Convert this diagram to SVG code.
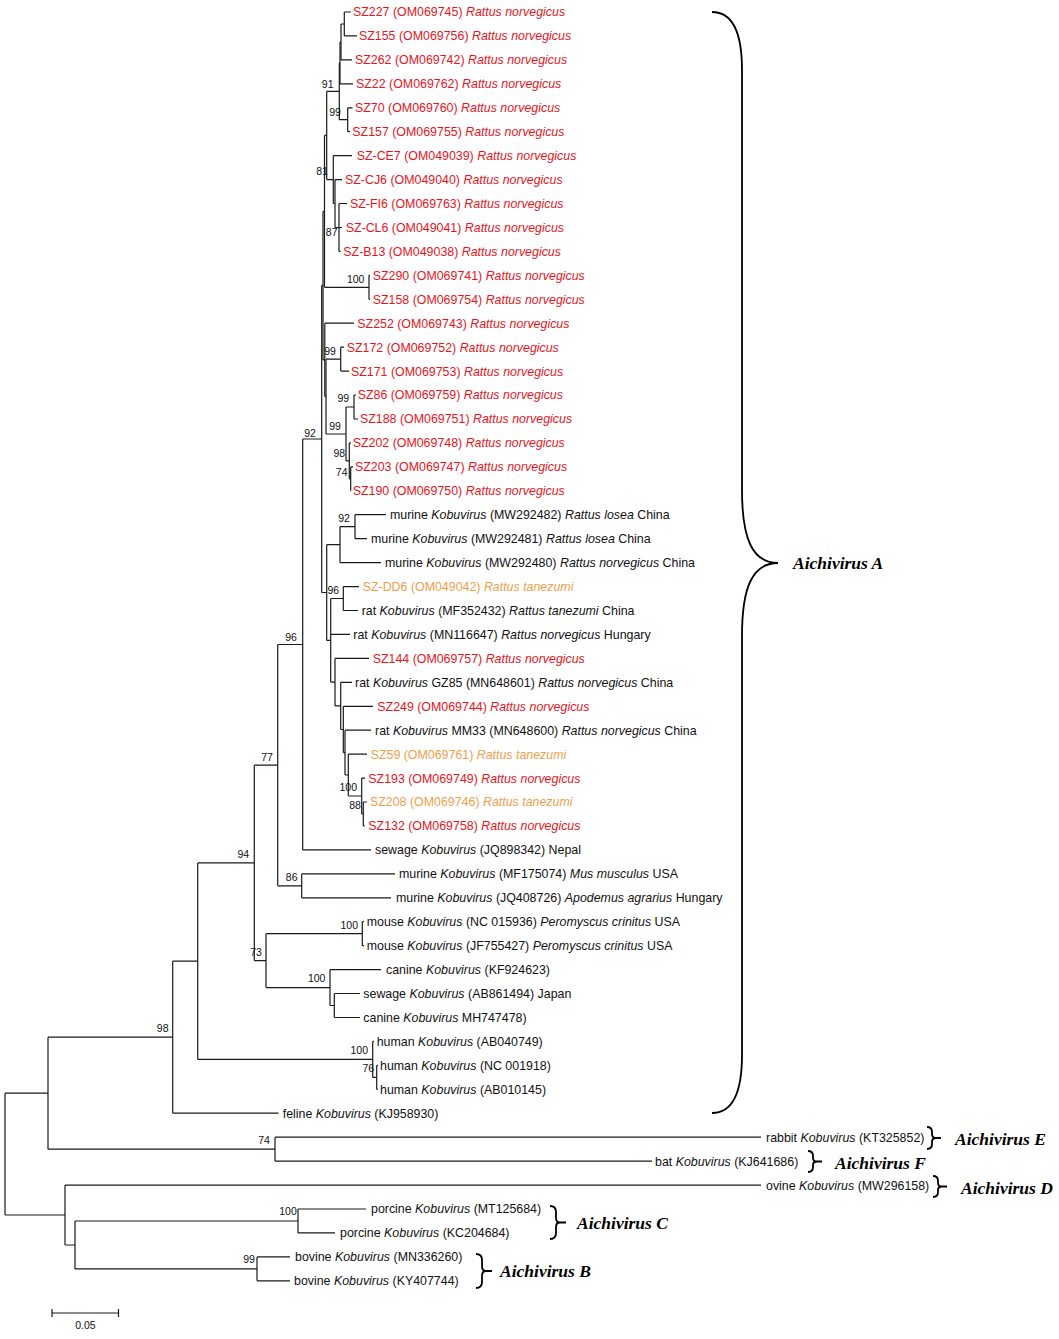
<svg xmlns="http://www.w3.org/2000/svg" width="1059" height="1339" viewBox="0 0 1059 1339">
<style>
.e{stroke:#1a1a1a;stroke-width:1.2;fill:none}
.t{font-family:"Liberation Sans",Arial,sans-serif;font-size:12.4px;fill:#111}
.r{fill:#e8141c}
.o{fill:#f0a04c}
.i{font-style:italic}
.b{font-family:"Liberation Sans",Arial,sans-serif;font-size:10.5px;fill:#111;text-anchor:middle}
.c{font-family:"Liberation Serif","Times New Roman",serif;font-weight:bold;font-style:italic;font-size:17.5px;fill:#000}
.br{stroke:#000;stroke-width:1.8;fill:none}
</style>
<rect width="1059" height="1339" fill="#fff"/>
<g id="edges" class="e">
<path d="M5 1093.2V1215M5 1093.2H48M5 1215H65"/>
<path d="M48 1037.2V1149.2M48 1037.2H172.7M48 1149.2H275"/>
<path d="M275 1137.2V1161.1M275 1137.2H761M275 1161.1H652"/>
<path d="M65 1185.1V1245M65 1185.1H761M65 1245H75"/>
<path d="M75 1221V1268.9M75 1221H298M75 1268.9H257"/>
<path d="M298 1209V1232.9M298 1209H366M298 1232.9H335"/>
<path d="M257 1256.9V1280.8M257 1256.9H290M257 1280.8H290"/>
<path d="M172.7 961.2V1113.2M172.7 961.2H197.7M172.7 1113.2H278.5"/>
<path d="M197.7 862.9V1059.4M197.7 862.9H254.3M197.7 1059.4H372.7"/>
<path d="M372.7 1041.4V1077.4M372.7 1041.4H374M372.7 1077.4H376.7"/>
<path d="M376.7 1065.4V1089.3M376.7 1065.4H378M376.7 1089.3H378"/>
<path d="M254.3 765.2V960.6M254.3 765.2H277.7M254.3 960.6H266"/>
<path d="M266 933.7V987.6M266 933.7H362.3M266 987.6H330"/>
<path d="M362.3 921.7V945.7M362.3 921.7H364M362.3 945.7H364"/>
<path d="M330 969.6V1005.5M330 969.6H381M330 1005.5H334.3"/>
<path d="M334.3 993.5V1017.5M334.3 993.5H360M334.3 1017.5H360"/>
<path d="M277.7 644.5V885.8M277.7 644.5H302.7M277.7 885.8H301.7"/>
<path d="M301.7 873.8V897.8M301.7 873.8H395M301.7 897.8H391"/>
<path d="M302.7 439V849.9M302.7 439H321.7M302.7 849.9H371"/>
<path d="M321.7 285.6V592.5M321.7 285.6H323M321.7 592.5H326.7"/>
<path d="M323 211.4V359.9M323 211.4H324.5M323 359.9H324.8"/>
<path d="M324.5 135.4V287.3M324.5 135.4H326.7M324.5 287.3H369"/>
<path d="M369 275.3V299.3M369 275.3H370M369 299.3H370"/>
<path d="M326.7 91.3V179.6M326.7 91.3H339.3M326.7 179.6H333.3"/>
<path d="M339.3 62.9V119.7M339.3 62.9H340M339.3 119.7H347.7"/>
<path d="M340 42V83.8M340 42H341M340 83.8H353"/>
<path d="M341 24V59.9M341 24H344.3M341 59.9H352"/>
<path d="M344.3 12V35.9M344.3 12H351M344.3 35.9H357"/>
<path d="M347.7 107.8V131.7M347.7 107.8H352.5M347.7 131.7H350"/>
<path d="M333.3 155.6V203.5M333.3 155.6H352M333.3 203.5H335"/>
<path d="M335 179.6V227.5M335 179.6H342M335 227.5H339"/>
<path d="M339 203.5V251.4M339 203.5H347M339 227.5H342M339 251.4H340.5"/>
<path d="M324.8 323.2V396.6M324.8 323.2H354M324.8 396.6H326"/>
<path d="M326 359.2V434M326 359.2H340.7M326 434H346"/>
<path d="M340.7 347.2V371.1M340.7 347.2H344M340.7 371.1H349"/>
<path d="M346 407V460.9M346 407H354M346 460.9H349.3"/>
<path d="M354 395V419M354 395H356M354 419H358"/>
<path d="M349.3 442.9V478.8M349.3 442.9H351M349.3 478.8H350.7"/>
<path d="M350.7 466.9V490.8M350.7 466.9H353M350.7 490.8H351"/>
<path d="M326.7 544.7V640.4M326.7 544.7H340M326.7 640.4H330.7"/>
<path d="M340 526.7V562.6M340 526.7H355M340 562.6H381"/>
<path d="M355 514.7V538.7M355 514.7H386M355 538.7H367"/>
<path d="M330.7 598.5V682.2M330.7 598.5H343.3M330.7 634.4H350M330.7 682.2H335"/>
<path d="M343.3 586.6V610.5M343.3 586.6H359M343.3 610.5H358"/>
<path d="M335 658.4V705.9M335 658.4H369M335 705.9H340.7"/>
<path d="M340.7 682.3V729.5M340.7 682.3H352M340.7 729.5H343.3"/>
<path d="M343.3 706.3V752.6M343.3 706.3H373M343.3 752.6H345"/>
<path d="M345 730.2V775M345 730.2H371M345 775H348.3"/>
<path d="M348.3 754.1V796M348.3 754.1H367M348.3 796H361.7"/>
<path d="M361.7 778.1V814M361.7 778.1H365M361.7 814H363.3"/>
<path d="M363.3 802V826M363.3 802H367M363.3 826H365"/>
</g>
<g id="bootstrap" class="b">
<text x="327.7" y="87.7">91</text>
<text x="335" y="115.5">99</text>
<text x="322" y="174.5">81</text>
<text x="331.7" y="235.5">87</text>
<text x="355.7" y="282.5">100</text>
<text x="330" y="354.5">99</text>
<text x="343.3" y="402">99</text>
<text x="335" y="429.5">99</text>
<text x="339.3" y="457">98</text>
<text x="341.7" y="475.5">74</text>
<text x="310" y="436.5">92</text>
<text x="344" y="522">92</text>
<text x="333.3" y="593.5">96</text>
<text x="348.3" y="790.5">100</text>
<text x="355" y="808.5">88</text>
<text x="291" y="640.5">96</text>
<text x="267" y="760.5">77</text>
<text x="291.7" y="880.5">86</text>
<text x="243.3" y="857.5">94</text>
<text x="349.3" y="928.5">100</text>
<text x="256" y="955.5">73</text>
<text x="316.7" y="982">100</text>
<text x="359.3" y="1053.5">100</text>
<text x="368.3" y="1072">76</text>
<text x="162.7" y="1032">98</text>
<text x="264" y="1143.5">74</text>
<text x="288" y="1214.5">100</text>
<text x="249" y="1262.5">99</text>
</g>
<g id="leaves" class="t">
<g id="n0"><text class="r" x="353" y="16.4">SZ227 (OM069745) <tspan class="i">Rattus norvegicus</tspan></text></g>
<g id="n1"><text class="r" x="359" y="40.3">SZ155 (OM069756) <tspan class="i">Rattus norvegicus</tspan></text></g>
<g id="n2"><text class="r" x="355" y="64.3">SZ262 (OM069742) <tspan class="i">Rattus norvegicus</tspan></text></g>
<g id="n3"><text class="r" x="356" y="88.2">SZ22 (OM069762) <tspan class="i">Rattus norvegicus</tspan></text></g>
<g id="n4"><text class="r" x="355" y="112.2">SZ70 (OM069760) <tspan class="i">Rattus norvegicus</tspan></text></g>
<g id="n5"><text class="r" x="352.3" y="136.1">SZ157 (OM069755) <tspan class="i">Rattus norvegicus</tspan></text></g>
<g id="n6"><text class="r" x="356.7" y="160">SZ-CE7 (OM049039) <tspan class="i">Rattus norvegicus</tspan></text></g>
<g id="n7"><text class="r" x="345" y="184">SZ-CJ6 (OM049040) <tspan class="i">Rattus norvegicus</tspan></text></g>
<g id="n8"><text class="r" x="350" y="207.9">SZ-FI6 (OM069763) <tspan class="i">Rattus norvegicus</tspan></text></g>
<g id="n9"><text class="r" x="345.7" y="231.9">SZ-CL6 (OM049041) <tspan class="i">Rattus norvegicus</tspan></text></g>
<g id="n10"><text class="r" x="343.3" y="255.8">SZ-B13 (OM049038) <tspan class="i">Rattus norvegicus</tspan></text></g>
<g id="n11"><text class="r" x="372.7" y="279.7">SZ290 (OM069741) <tspan class="i">Rattus norvegicus</tspan></text></g>
<g id="n12"><text class="r" x="372.7" y="303.7">SZ158 (OM069754) <tspan class="i">Rattus norvegicus</tspan></text></g>
<g id="n13"><text class="r" x="357.3" y="327.6">SZ252 (OM069743) <tspan class="i">Rattus norvegicus</tspan></text></g>
<g id="n14"><text class="r" x="346.7" y="351.6">SZ172 (OM069752) <tspan class="i">Rattus norvegicus</tspan></text></g>
<g id="n15"><text class="r" x="351" y="375.5">SZ171 (OM069753) <tspan class="i">Rattus norvegicus</tspan></text></g>
<g id="n16"><text class="r" x="357.7" y="399.4">SZ86 (OM069759) <tspan class="i">Rattus norvegicus</tspan></text></g>
<g id="n17"><text class="r" x="360" y="423.4">SZ188 (OM069751) <tspan class="i">Rattus norvegicus</tspan></text></g>
<g id="n18"><text class="r" x="352.7" y="447.3">SZ202 (OM069748) <tspan class="i">Rattus norvegicus</tspan></text></g>
<g id="n19"><text class="r" x="355" y="471.3">SZ203 (OM069747) <tspan class="i">Rattus norvegicus</tspan></text></g>
<g id="n20"><text class="r" x="352.7" y="495.2">SZ190 (OM069750) <tspan class="i">Rattus norvegicus</tspan></text></g>
<g id="n21"><text x="390" y="519.1">murine <tspan class="i">Kobuvirus</tspan> (MW292482) <tspan class="i">Rattus losea</tspan> China</text></g>
<g id="n22"><text x="371" y="543.1">murine <tspan class="i">Kobuvirus</tspan> (MW292481) <tspan class="i">Rattus losea</tspan> China</text></g>
<g id="n23"><text x="385" y="567">murine <tspan class="i">Kobuvirus</tspan> (MW292480) <tspan class="i">Rattus norvegicus</tspan> China</text></g>
<g id="n24"><text class="o" x="362.7" y="591">SZ-DD6 (OM049042) <tspan class="i">Rattus tanezumi</tspan></text></g>
<g id="n25"><text x="361.7" y="614.9">rat <tspan class="i">Kobuvirus</tspan> (MF352432) <tspan class="i">Rattus tanezumi</tspan> China</text></g>
<g id="n26"><text x="353.3" y="638.8">rat <tspan class="i">Kobuvirus</tspan> (MN116647) <tspan class="i">Rattus norvegicus</tspan> Hungary</text></g>
<g id="n27"><text class="r" x="372.7" y="662.8">SZ144 (OM069757) <tspan class="i">Rattus norvegicus</tspan></text></g>
<g id="n28"><text x="355" y="686.7">rat <tspan class="i">Kobuvirus</tspan> GZ85 (MN648601) <tspan class="i">Rattus norvegicus</tspan> China</text></g>
<g id="n29"><text class="r" x="377.3" y="710.7">SZ249 (OM069744) <tspan class="i">Rattus norvegicus</tspan></text></g>
<g id="n30"><text x="375" y="734.6">rat <tspan class="i">Kobuvirus</tspan> MM33 (MN648600) <tspan class="i">Rattus norvegicus</tspan> China</text></g>
<g id="n31"><text class="o" x="370.7" y="758.5">SZ59 (OM069761) <tspan class="i">Rattus tanezumi</tspan></text></g>
<g id="n32"><text class="r" x="368.3" y="782.5">SZ193 (OM069749) <tspan class="i">Rattus norvegicus</tspan></text></g>
<g id="n33"><text class="o" x="370" y="806.4">SZ208 (OM069746) <tspan class="i">Rattus tanezumi</tspan></text></g>
<g id="n34"><text class="r" x="368.3" y="830.4">SZ132 (OM069758) <tspan class="i">Rattus norvegicus</tspan></text></g>
<g id="n35"><text x="375" y="854.3">sewage <tspan class="i">Kobuvirus</tspan> (JQ898342) Nepal</text></g>
<g id="n36"><text x="399" y="878.2">murine <tspan class="i">Kobuvirus</tspan> (MF175074) <tspan class="i">Mus musculus</tspan> USA</text></g>
<g id="n37"><text x="396" y="902.2">murine <tspan class="i">Kobuvirus</tspan> (JQ408726) <tspan class="i">Apodemus agrarius</tspan> Hungary</text></g>
<g id="n38"><text x="366.7" y="926.1">mouse <tspan class="i">Kobuvirus</tspan> (NC 015936) <tspan class="i">Peromyscus crinitus</tspan> USA</text></g>
<g id="n39"><text x="366.7" y="950.1">mouse <tspan class="i">Kobuvirus</tspan> (JF755427) <tspan class="i">Peromyscus crinitus</tspan> USA</text></g>
<g id="n40"><text x="386" y="974">canine <tspan class="i">Kobuvirus</tspan> (KF924623)</text></g>
<g id="n41"><text x="363.3" y="997.9">sewage <tspan class="i">Kobuvirus</tspan> (AB861494) Japan</text></g>
<g id="n42"><text x="363.3" y="1021.9">canine <tspan class="i">Kobuvirus</tspan> MH747478)</text></g>
<g id="n43"><text x="376.7" y="1045.8">human <tspan class="i">Kobuvirus</tspan> (AB040749)</text></g>
<g id="n44"><text x="380" y="1069.8">human <tspan class="i">Kobuvirus</tspan> (NC 001918)</text></g>
<g id="n45"><text x="380" y="1093.7">human <tspan class="i">Kobuvirus</tspan> (AB010145)</text></g>
<g id="n46"><text x="282.7" y="1117.6">feline <tspan class="i">Kobuvirus</tspan> (KJ958930)</text></g>
<g id="n47"><text x="766" y="1141.6">rabbit <tspan class="i">Kobuvirus</tspan> (KT325852)</text></g>
<g id="n48"><text x="655" y="1165.5">bat <tspan class="i">Kobuvirus</tspan> (KJ641686)</text></g>
<g id="n49"><text x="766" y="1189.5">ovine <tspan class="i">Kobuvirus</tspan> (MW296158)</text></g>
<g id="n50"><text x="371" y="1213.4">porcine <tspan class="i">Kobuvirus</tspan> (MT125684)</text></g>
<g id="n51"><text x="340" y="1237.3">porcine <tspan class="i">Kobuvirus</tspan> (KC204684)</text></g>
<g id="n52"><text x="295" y="1261.3">bovine <tspan class="i">Kobuvirus</tspan> (MN336260)</text></g>
<g id="n53"><text x="294" y="1285.2">bovine <tspan class="i">Kobuvirus</tspan> (KY407744)</text></g>
</g>
<g id="clades">
<g id="cladeA"><path class="br" d="M712 12C732 12 742 30 742 70L742 490C742 538 752 563 778 563C752 563 742 588 742 636L742 1055C742 1095 732 1113 712 1113"/><text class="c" x="793" y="569">Aichivirus A</text></g>
<g id="cladeE"><path class="br" d="M927 1127Q932 1127 932 1132L932 1134Q932 1138 936 1138L941 1138M936 1138Q932 1138 932 1142L932 1144Q932 1149 927 1149"/><text class="c" x="955" y="1145">Aichivirus E</text></g>
<g id="cladeF"><path class="br" d="M808 1151Q813 1151 813 1156L813 1158Q813 1161.5 817 1161.5L822 1161.5M817 1161.5Q813 1161.5 813 1165L813 1167Q813 1172 808 1172"/><text class="c" x="835" y="1169">Aichivirus F</text></g>
<g id="cladeD"><path class="br" d="M933 1176Q938 1176 938 1181L938 1183Q938 1186.5 942 1186.5L947 1186.5M942 1186.5Q938 1186.5 938 1190L938 1192Q938 1197 933 1197"/><text class="c" x="961" y="1194">Aichivirus D</text></g>
<g id="cladeC"><path class="br" d="M550 1206Q556 1206 556 1212L556 1218Q556 1222.5 560 1222.5L566 1222.5M560 1222.5Q556 1222.5 556 1227L556 1233Q556 1239 550 1239"/><text class="c" x="577" y="1229">Aichivirus C</text></g>
<g id="cladeB"><path class="br" d="M476 1254Q482 1254 482 1260L482 1266Q482 1271 486 1271L492 1271M486 1271Q482 1271 482 1276L482 1282Q482 1288 476 1288"/><text class="c" x="500" y="1277">Aichivirus B</text></g>
</g>
<g id="scalebar">
<path class="e" d="M52 1313H118.5M52 1309V1317M118.5 1309V1317"/>
<text class="b" x="85.4" y="1329">0.05</text>
</g>
</svg>
